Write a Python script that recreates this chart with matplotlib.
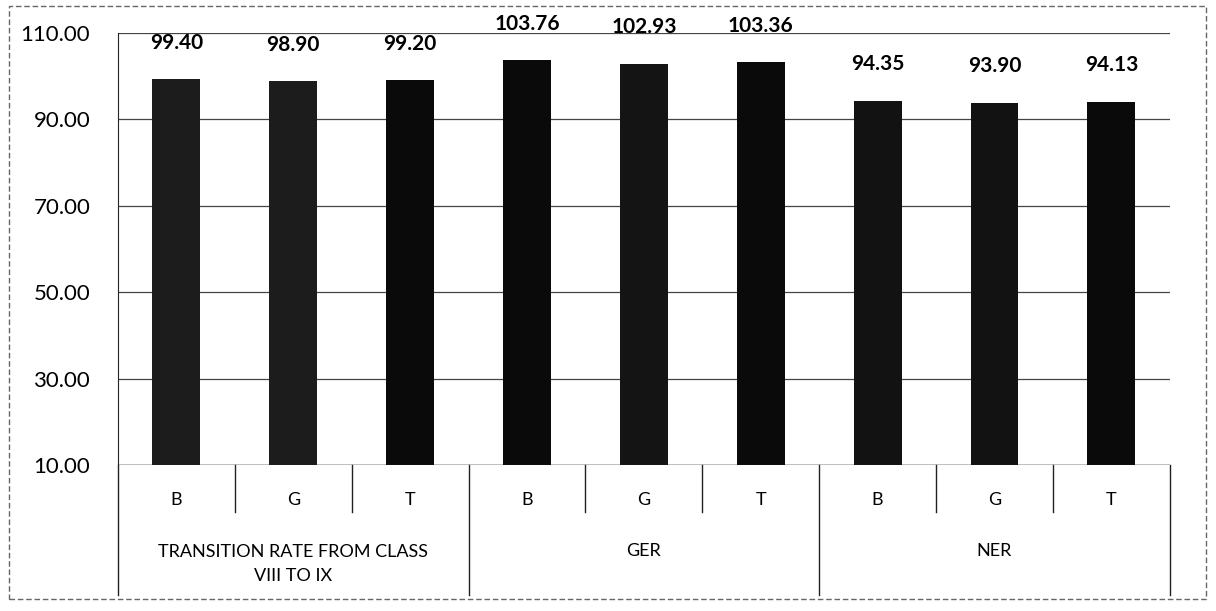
import matplotlib.pyplot as plt
import numpy as np

groups = ['TRANSITION RATE FROM CLASS\nVIII TO IX', 'GER', 'NER']
sub_labels = ['B', 'G', 'T']
values = [99.40, 98.90, 99.20, 103.76, 102.93, 103.36, 94.35, 93.90, 94.13]
y_ticks = [10, 30, 50, 70, 90, 110]

plt.rcParams['font.family'] = ['Lato', 'DejaVu Sans']

fig = plt.figure(figsize=(12.16, 6.11), dpi=100)
ax = fig.add_axes([0.097, 0.239, 0.865, 0.707])

x = np.arange(len(values))
colors = ['#1c1c1c', '#1c1c1c', '#0a0a0a', '#0a0a0a', '#141414', '#0a0a0a', '#121212', '#121212', '#0a0a0a']
ax.bar(x, values, width=0.41, color=colors, zorder=3)

for xi, v in zip(x, values):
    ax.annotate(f'{v:.2f}', (xi, v), xytext=(0, 26), textcoords='offset points',
                ha='center', va='center', fontsize=15, fontweight='bold')

ax.set_ylim(10, 110)
ax.set_xlim(-0.5, len(values) - 0.5)
ax.set_yticks(y_ticks)
ax.set_yticklabels([f'{t:.2f}' for t in y_ticks], fontsize=16)
ax.tick_params(axis='y', length=0, pad=20)
ax.set_xticks([])
ax.grid(axis='y', color='#444444', lw=0.9, zorder=0)
for s in ['top', 'right', 'bottom']:
    ax.spines[s].set_visible(False)
ax.spines['left'].set_color('#222222')
ax.axhline(10, color='#222222', lw=1, zorder=4)

# category axis below the plot
tr = ax.get_xaxis_transform()
for xi, lab in zip(x, sub_labels * 3):
    ax.text(xi, -0.08, lab, transform=tr, ha='center', va='center', fontsize=13)
for i in range(len(values) + 1):
    b = i - 0.5
    low = -0.3 if i % 3 == 0 else -0.11
    ax.plot([b, b], [0, low], transform=tr, color='#222222', lw=1, clip_on=False)
for g, name in enumerate(groups):
    cx = g * 3 + 1
    if '\n' in name:
        ax.text(cx, -0.23, name, transform=tr, ha='center', va='center', fontsize=13, linespacing=1.6)
    else:
        ax.text(cx, -0.2, name, transform=tr, ha='center', va='center', fontsize=13)

# outer frame of the chart
fig.patches.append(plt.Rectangle((0.007, 0.02), 0.985, 0.97, transform=fig.transFigure,
                                 fill=False, edgecolor='#666666', lw=1, ls=(0, (4, 2))))

fig.savefig('out.png', dpi=100)
